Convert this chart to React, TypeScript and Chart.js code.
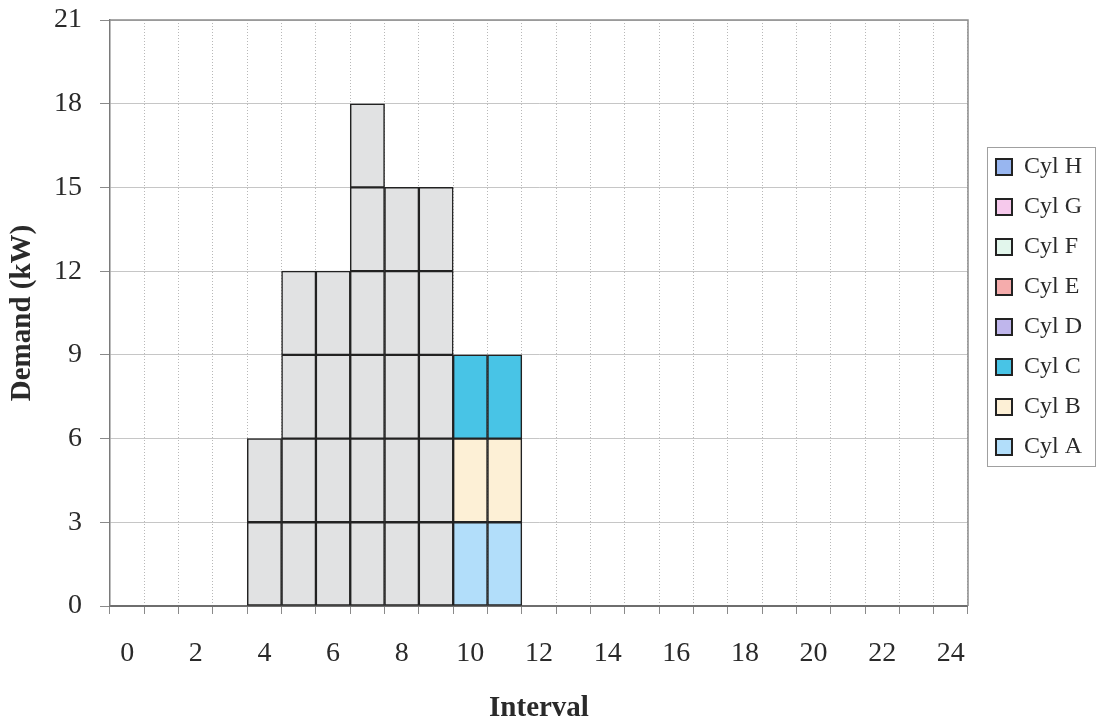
import { useEffect, useRef } from 'react';
import { Chart, registerables } from 'chart.js';

Chart.register(...registerables);

// Time intervals on the horizontal axis
const intervals = [
  '0', '1', '2', '3', '4', '5', '6', '7', '8', '9', '10', '11', '12',
  '13', '14', '15', '16', '17', '18', '19', '20', '21', '22', '23', '24',
];

// Already-committed 3 kW demand blocks (grey), stacked bottom to top
const block1 = [null, null, null, null, 3, 3, 3, 3, 3, 3, null, null, null, null, null, null, null, null, null, null, null, null, null, null, null];
const block2 = [null, null, null, null, 3, 3, 3, 3, 3, 3, null, null, null, null, null, null, null, null, null, null, null, null, null, null, null];
const block3 = [null, null, null, null, null, 3, 3, 3, 3, 3, null, null, null, null, null, null, null, null, null, null, null, null, null, null, null];
const block4 = [null, null, null, null, null, 3, 3, 3, 3, 3, null, null, null, null, null, null, null, null, null, null, null, null, null, null, null];
const block5 = [null, null, null, null, null, null, null, 3, 3, 3, null, null, null, null, null, null, null, null, null, null, null, null, null, null, null];
const block6 = [null, null, null, null, null, null, null, 3, null, null, null, null, null, null, null, null, null, null, null, null, null, null, null, null, null];

// Cylinder demand (kW) per interval
const cylA = [null, null, null, null, null, null, null, null, null, null, 3, 3, null, null, null, null, null, null, null, null, null, null, null, null, null];
const cylB = [null, null, null, null, null, null, null, null, null, null, 3, 3, null, null, null, null, null, null, null, null, null, null, null, null, null];
const cylC = [null, null, null, null, null, null, null, null, null, null, 3, 3, null, null, null, null, null, null, null, null, null, null, null, null, null];
const cylD: (number | null)[] = [];
const cylE: (number | null)[] = [];
const cylF: (number | null)[] = [];
const cylG: (number | null)[] = [];
const cylH: (number | null)[] = [];

const cylNames = ['Cyl A', 'Cyl B', 'Cyl C', 'Cyl D', 'Cyl E', 'Cyl F', 'Cyl G', 'Cyl H'];
const cylColors = ['#b2defa', '#fdf0d6', '#48c4e6', '#bfb6ec', '#f5acac', '#e2f6ec', '#f6c9ec', '#98b6f0'];
const blockColor = '#e1e2e3';
const edgeColor = '#222222';

const yTickMax = 21;
const yTickStep = 3;

const SERIF = '"Liberation Serif", "Times New Roman", serif';

// Nudges the legend column up a little, before its hit boxes are laid out
const legendShiftPlugin = {
  id: 'legendShift',
  afterLayout(chart: any) {
    const lg = chart.legend;
    if (!lg) return;
    lg.top -= 6;
    lg.bottom -= 6;
  },
};

// Plot frame (top and right edges) and the box around the legend
const framePlugin = {
  id: 'plotFrame',
  afterDraw(chart: any) {
    const { ctx, chartArea } = chart;
    const { left, right, top, bottom } = chartArea;
    ctx.save();
    ctx.strokeStyle = '#8c8c8c';
    ctx.lineWidth = 1.5;
    ctx.beginPath();
    ctx.moveTo(left, top);
    ctx.lineTo(right, top);
    ctx.lineTo(right, bottom);
    ctx.stroke();

    const boxes = chart.legend && chart.legend.legendHitBoxes;
    if (boxes && boxes.length) {
      const first = boxes[0];
      const last = boxes[boxes.length - 1];
      const x0 = first.left - 9;
      const y0 = first.top - 8;
      const y1 = last.top + last.height + 7;
      ctx.strokeStyle = '#a0a0a0';
      ctx.lineWidth = 1;
      ctx.strokeRect(x0 + 0.5, y0 + 0.5, 108, y1 - y0);
    }
    ctx.restore();
  },
};

export default function App() {
  const canvasRef = useRef<HTMLCanvasElement | null>(null);

  useEffect(() => {
    if (!canvasRef.current) return;
    Chart.defaults.font.family = SERIF;
    Chart.defaults.color = '#2a2a2a';

    const blocks = [block1, block2, block3, block4, block5, block6];
    const cyls = [cylA, cylB, cylC, cylD, cylE, cylF, cylG, cylH];

    const datasets: any[] = [
      ...blocks.map((data, i) => ({
        label: `Block ${i + 1}`,
        data,
        backgroundColor: blockColor,
        borderColor: edgeColor,
        borderWidth: 1.5,
        borderSkipped: false,
      })),
      ...cyls.map((data, i) => ({
        label: cylNames[i],
        data,
        backgroundColor: cylColors[i],
        borderColor: edgeColor,
        borderWidth: 1.5,
        borderSkipped: false,
      })),
    ];

    const chart = new Chart(canvasRef.current, {
      type: 'bar',
      data: { labels: intervals, datasets },
      options: {
        animation: false,
        responsive: false,
        layout: { padding: { top: 20, left: 4, right: 9, bottom: 0 } },
        datasets: { bar: { barPercentage: 1, categoryPercentage: 1 } },
        plugins: {
          tooltip: { enabled: false },
          legend: {
            position: 'right',
            fullSize: false,
            reverse: true,
            labels: {
              boxWidth: 16,
              boxHeight: 16,
              padding: 16,
              color: '#2a2a2a',
              font: { family: SERIF, size: 24 },
              filter: (item: any) => cylNames.includes(item.text),
              generateLabels: (c: any) =>
                (Chart.defaults.plugins.legend.labels as any)
                  .generateLabels(c)
                  .map((l: any) => ({ ...l, lineWidth: 2 })),
            },
          },
        },
        scales: {
          x: {
            stacked: true,
            afterFit: (s: any) => {
              s.height = 121;
              s.paddingLeft = 0;
              s.paddingRight = 0;
            },
            grid: {
              offset: true,
              color: '#b8b8b8',
              lineWidth: 1,
              tickLength: 8,
              tickColor: '#8a8a8a',
              tickWidth: 1,
            },
            border: { display: true, color: '#6e6e6e', width: 2, dash: [1, 2] },
            ticks: {
              autoSkip: false,
              maxRotation: 0,
              padding: 23,
              color: '#2a2a2a',
              font: { family: SERIF, size: 28 },
              callback: (_v: any, i: number) => (i % 2 === 0 ? intervals[i] : ''),
            },
            title: {
              display: true,
              text: 'Interval',
              color: '#2a2a2a',
              font: { family: SERIF, size: 29, weight: 'bold' },
              padding: { top: 21, bottom: 1 },
            },
          },
          y: {
            stacked: true,
            min: 0,
            max: yTickMax,
            afterFit: (s: any) => {
              s.width = 106;
              s.paddingTop = 0;
              s.paddingBottom = 0;
            },
            grid: {
              color: '#c6c6c6',
              lineWidth: 1,
              tickLength: 10,
              tickColor: '#8a8a8a',
            },
            border: { display: true, color: '#7a7a7a', width: 1.5 },
            ticks: {
              stepSize: yTickStep,
              padding: 18,
              color: '#2a2a2a',
              font: { family: SERIF, size: 28 },
            },
            title: {
              display: true,
              text: 'Demand (kW)',
              color: '#2a2a2a',
              font: { family: SERIF, size: 29, weight: 'bold' },
              padding: { top: 1, bottom: 14 },
            },
          },
          gap: {
            type: 'linear',
            position: 'right',
            display: true,
            grid: { display: false },
            border: { display: false },
            ticks: { display: false },
            afterFit: (s: any) => {
              s.width = 12;
            },
          },
        },
      } as any,
      plugins: [legendShiftPlugin, framePlugin],
    });

    return () => chart.destroy();
  }, []);

  return (
    <div style={{ position: 'fixed', left: 0, top: 0, width: 1101, height: 727, background: '#ffffff' }}>
      <canvas ref={canvasRef} width={1101} height={727} style={{ display: 'block' }} />
    </div>
  );
}
